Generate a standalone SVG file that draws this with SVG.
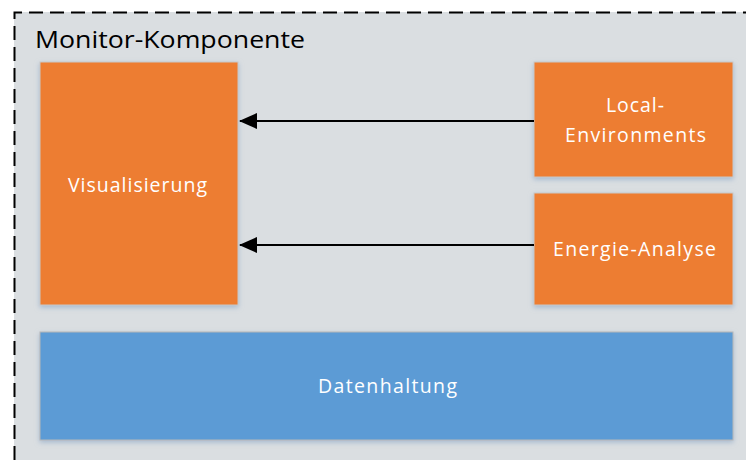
<svg xmlns="http://www.w3.org/2000/svg" width="746" height="460" viewBox="0 0 746 460">
  <defs>
    <filter id="shadow" x="-10%" y="-10%" width="120%" height="130%">
      <feGaussianBlur in="SourceAlpha" stdDeviation="2.5"/>
      <feOffset dx="0" dy="2" result="b"/>
      <feFlood flood-color="#8fa9c8" flood-opacity="0.7"/>
      <feComposite in2="b" operator="in"/>
      <feMerge><feMergeNode/><feMergeNode in="SourceGraphic"/></feMerge>
    </filter>
    <marker id="arrow" viewBox="0 0 18 18" refX="17" refY="9" markerWidth="18" markerHeight="18" markerUnits="userSpaceOnUse" orient="auto">
      <path d="M0,1 L18,9 L0,17 Z" fill="#000"/>
    </marker>
  </defs>
  <style>
    .label { font-family: "Open Sans", "Liberation Sans", sans-serif; font-size: 19.5px; fill: #fff; text-anchor: middle; }
    .title { font-family: "Open Sans", "Liberation Sans", sans-serif; font-size: 24px; fill: #000; }
    .orange { fill: #ED7D31; stroke: #c9c9c9; stroke-width: 1; filter: url(#shadow); }
    .blue { fill: #5B9BD5; stroke: #b8b8b8; stroke-width: 1; filter: url(#shadow); }
    .conn { stroke: #000; stroke-width: 2; fill: none; }
  </style>

  <rect width="746" height="460" fill="#fff"/>

  <!-- container -->
  <g id="monitor-komponente">
    <rect x="14" y="12" width="740" height="460" fill="#DADEE1"/>
    <path d="M14.5,460 L14.5,12.5 L746,12.5" fill="none" stroke="#000" stroke-width="2" stroke-dasharray="14,7"/>
    <text class="title" x="35" y="48" textLength="270" lengthAdjust="spacingAndGlyphs">Monitor-Komponente</text>
  </g>

  <g id="visualisierung">
    <rect class="orange" x="40" y="62" width="198" height="243"/>
    <text class="label" x="137.5" y="192" textLength="139">Visualisierung</text>
  </g>

  <g id="local-environments">
    <rect class="orange" x="534" y="62" width="199" height="115"/>
    <text class="label" x="635" y="112" textLength="58">Local-</text>
    <text class="label" x="635.5" y="142" textLength="141">Environments</text>
  </g>

  <g id="energie-analyse">
    <rect class="orange" x="534" y="193" width="199" height="112"/>
    <text class="label" x="634.5" y="256" textLength="163">Energie-Analyse</text>
  </g>

  <g id="datenhaltung">
    <rect class="blue" x="40" y="332" width="693" height="108"/>
    <text class="label" x="387.5" y="393" textLength="139">Datenhaltung</text>
  </g>

  <g id="connectors">
    <line class="conn" x1="534" y1="121" x2="240" y2="121" marker-end="url(#arrow)"/>
    <line class="conn" x1="534" y1="245" x2="240" y2="245" marker-end="url(#arrow)"/>
  </g>
</svg>
